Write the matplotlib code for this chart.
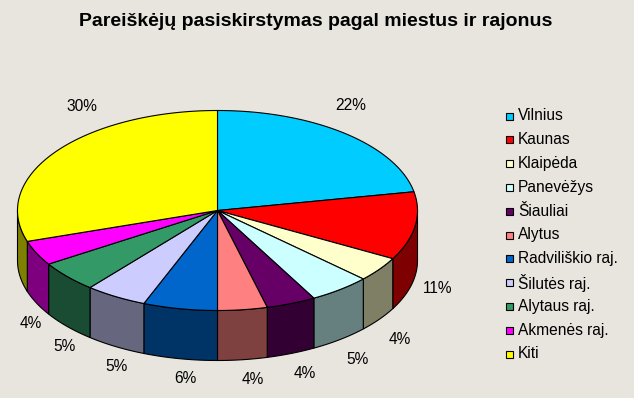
import numpy as np
import matplotlib.pyplot as plt
from matplotlib.patches import Polygon, Rectangle

plt.rcParams['font.family'] = ['Liberation Sans', 'DejaVu Sans']

# duomenys
miestai = ['Vilnius', 'Kaunas', 'Klaipėda', 'Panevėžys', 'Šiauliai', 'Alytus',
           'Radviliškio raj.', 'Šilutės raj.', 'Alytaus raj.', 'Akmenės raj.', 'Kiti']
procentai = [22, 11, 4, 5, 4, 4, 6, 5, 5, 4, 30]
spalvos = ['#00CCFF', '#FF0000', '#FFFFCC', '#CCFFFF', '#660066', '#FF8080',
           '#0066CC', '#CCCCFF', '#339966', '#FF00FF', '#FFFF00']
pavadinimas = 'Pareiškėjų pasiskirstymas pagal miestus ir rajonus'

fono_spalva = '#E8E4DE'

# pyrago geometrija (pikseliais)
cx, cy = 217.5, 210.5
rx, ry = 200, 100
gylis = 50


def tamsesne(c):
    r, g, b = [int(c[i:i + 2], 16) for i in (1, 3, 5)]
    return '#%02X%02X%02X' % (r // 2, g // 2, b // 2)


def taskas(kampas, dy=0):
    # kampas laipsniais nuo virsaus, pagal laikrodzio rodykle
    t = np.radians(kampas)
    return cx + rx * np.sin(t), cy - ry * np.cos(t) + dy


fig = plt.figure(figsize=(6.34, 3.98), dpi=100, facecolor=fono_spalva)
ax = fig.add_axes([0, 0, 1, 1])
ax.set_xlim(0, 634)
ax.set_ylim(398, 0)
ax.axis('off')
ax.set_facecolor(fono_spalva)

suma = sum(procentai)
ribos = np.concatenate([[0], np.cumsum(procentai)]) / suma * 360

# sonai (tik priekine puse: 90..270 laipsniu)
for i in range(len(procentai)):
    a0, a1 = max(ribos[i], 90), min(ribos[i + 1], 270)
    if a1 <= a0:
        continue
    kampai = np.linspace(a0, a1, 60)
    virsus = [taskas(a) for a in kampai]
    apacia = [taskas(a, gylis) for a in kampai[::-1]]
    ax.add_patch(Polygon(virsus + apacia, closed=True, facecolor=tamsesne(spalvos[i]),
                         edgecolor='black', linewidth=0.8, zorder=1))

# virsutines dalys
for i in range(len(procentai)):
    kampai = np.linspace(ribos[i], ribos[i + 1], 120)
    pts = [(cx, cy)] + [taskas(a) for a in kampai]
    ax.add_patch(Polygon(pts, closed=True, facecolor=spalvos[i],
                         edgecolor='black', linewidth=0.8, zorder=2))

# procentu etiketes
for i, p in enumerate(procentai):
    vid = (ribos[i] + ribos[i + 1]) / 2
    t = np.radians(vid)
    if 90 <= vid <= 270:
        x, y = taskas(vid, gylis)
        x += 8 + 15 * np.sin(t)
        y += 20 * min(1, abs(np.cos(t)) * 4)
    else:
        v = vid if vid < 180 else vid - 360
        tl = np.radians(33 * np.tanh(v / 18))
        x = cx + 250 * np.sin(tl)
        y = cy - 124 * np.cos(tl)
    ax.text(x, y, f'{p}%', fontsize=11.2, ha='center', va='center', zorder=3)

# legenda
ly0, lzingsnis = 116, 23.8
for i, m in enumerate(miestai):
    y = ly0 + i * lzingsnis
    ax.add_patch(Rectangle((506, y - 3.5), 7, 7, facecolor=spalvos[i],
                           edgecolor='black', linewidth=0.8, zorder=3))
    ax.text(518, y, m, fontsize=11.2, ha='left', va='center', zorder=3)

ax.text(316, 21, pavadinimas, fontsize=14, fontweight='bold', ha='center', va='center')

fig.savefig('out.png', dpi=100, facecolor=fono_spalva)
